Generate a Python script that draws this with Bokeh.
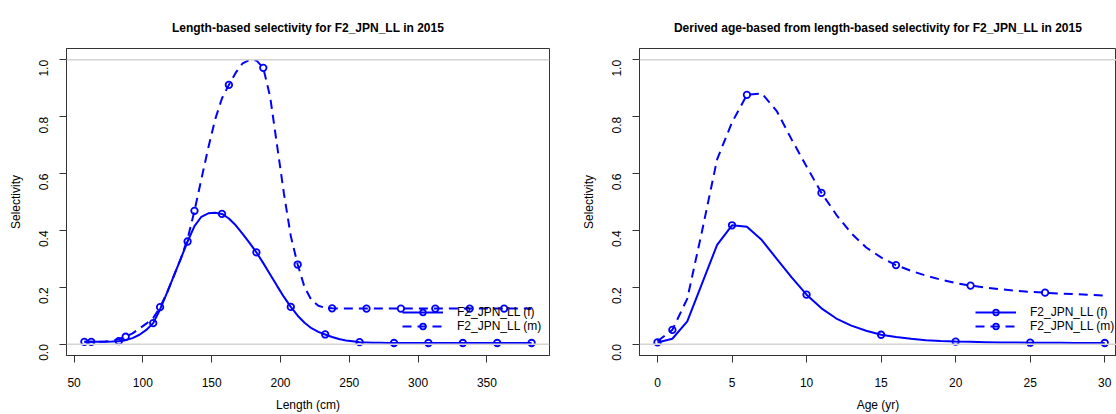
import math
from bokeh.plotting import figure
from bokeh.models import Range1d, FixedTicker, PrintfTickFormatter, Span, Legend, LegendItem
from bokeh.layouts import row
from bokeh.embed import file_html
from bokeh.resources import INLINE

# ---------------- data ----------------
length_bins = [57.5, 62.5, 67.5, 72.5, 77.5, 82.5, 87.5, 92.5, 97.5, 102.5,
               107.5, 112.5, 117.5, 122.5, 127.5, 132.5, 137.5, 142.5, 147.5, 152.5,
               157.5, 162.5, 167.5, 172.5, 177.5, 182.5, 187.5, 192.5, 197.5, 202.5,
               207.5, 212.5, 217.5, 222.5, 227.5, 232.5, 237.5, 242.5, 247.5, 252.5,
               257.5, 262.5, 267.5, 272.5, 277.5, 282.5, 287.5, 292.5, 297.5, 302.5,
               307.5, 312.5, 317.5, 322.5, 327.5, 332.5, 337.5, 342.5, 347.5, 352.5,
               357.5, 362.5, 367.5, 372.5, 377.5, 382.5]
sel_len_f = [0.008, 0.008, 0.008, 0.008, 0.009, 0.0105, 0.014, 0.021, 0.033, 0.050,
             0.074, 0.122, 0.180, 0.240, 0.300, 0.361, 0.415, 0.448, 0.460, 0.462,
             0.458, 0.442, 0.418, 0.388, 0.356, 0.323, 0.285, 0.245, 0.205, 0.166,
             0.131, 0.100, 0.075, 0.056, 0.043, 0.034, 0.025, 0.018, 0.013, 0.010,
             0.007, 0.006, 0.005, 0.005, 0.004, 0.004, 0.004, 0.004, 0.004, 0.004,
             0.004, 0.004, 0.004, 0.004, 0.004, 0.004, 0.004, 0.004, 0.004, 0.004,
             0.004, 0.004, 0.004, 0.004, 0.004, 0.004]
sel_len_m = [0.008, 0.008, 0.008, 0.009, 0.012, 0.017, 0.026, 0.038, 0.055, 0.072,
             0.092, 0.130, 0.180, 0.240, 0.300, 0.370, 0.469, 0.580, 0.690, 0.790,
             0.865, 0.912, 0.955, 0.988, 1.000, 0.998, 0.972, 0.870, 0.700, 0.530,
             0.380, 0.280, 0.200, 0.155, 0.135, 0.128, 0.126, 0.125, 0.125, 0.125,
             0.125, 0.125, 0.125, 0.125, 0.125, 0.125, 0.125, 0.125, 0.125, 0.125,
             0.125, 0.125, 0.125, 0.125, 0.125, 0.125, 0.125, 0.125, 0.125, 0.125,
             0.125, 0.125, 0.125, 0.125, 0.125, 0.125]

age_bins = [0, 1, 2, 3, 4, 5, 6, 7, 8, 9, 10, 11, 12, 13, 14, 15, 16, 17, 18, 19,
            20, 21, 22, 23, 24, 25, 26, 27, 28, 29, 30]
sel_age_f = [0.006, 0.019, 0.080, 0.215, 0.349, 0.418, 0.413, 0.366, 0.300, 0.235,
             0.174, 0.126, 0.090, 0.065, 0.047, 0.033, 0.025, 0.019, 0.014, 0.011,
             0.009, 0.008, 0.007, 0.006, 0.006, 0.005, 0.005, 0.005, 0.004, 0.004,
             0.004]
sel_age_m = [0.010, 0.050, 0.160, 0.400, 0.650, 0.780, 0.877, 0.882, 0.820, 0.720,
             0.625, 0.532, 0.455, 0.390, 0.340, 0.305, 0.278, 0.258, 0.241, 0.227,
             0.215, 0.206, 0.199, 0.193, 0.188, 0.184, 0.181, 0.178, 0.176, 0.173,
             0.171]

len_ticks = [50, 100, 150, 200, 250, 300, 350]
age_ticks = [0, 5, 10, 15, 20, 25, 30]
sel_ticks = [0.0, 0.2, 0.4, 0.6, 0.8, 1.0]
ref_lines = [0.0, 1.0]
label_f = "F2_JPN_LL (f)"
label_m = "F2_JPN_LL (m)"

FONT = "Liberation Sans"
BLUE = "#0000FF"


def make_panel(title, xlabel, xs, yf, ym, xticks, xr, width, mbl, mbr):
    p = figure(width=width, height=414, output_backend="svg", toolbar_location=None,
               x_range=Range1d(*xr), y_range=Range1d(-0.04, 1.04),
               min_border_left=mbl, min_border_right=mbr, min_border_top=48,
               min_border_bottom=58)
    p.title.text = title
    p.title.align = "center"
    p.title.vertical_align = "top"
    p.title.text_font = FONT
    p.title.text_font_size = "12px"
    p.title.text_font_style = "bold"
    p.title.text_color = "black"
    p.title.standoff = 24
    p.grid.visible = False
    p.outline_line_color = "#333333"
    p.outline_line_width = 1
    p.background_fill_color = "white"
    p.border_fill_color = "white"

    for ax in (p.xaxis[0], p.yaxis[0]):
        ax.axis_line_color = "#333333"
        ax.major_tick_line_color = "#333333"
        ax.minor_tick_line_color = None
        ax.major_tick_out = 7
        ax.major_tick_in = 0
        ax.major_label_text_font = FONT
        ax.major_label_text_font_size = "12px"
        ax.major_label_text_color = "black"
        ax.axis_label_text_font = FONT
        ax.axis_label_text_font_size = "12px"
        ax.axis_label_text_font_style = "normal"
        ax.axis_label_text_color = "black"
    p.xaxis.ticker = FixedTicker(ticks=xticks)
    p.xaxis.axis_label = xlabel
    p.xaxis.major_label_standoff = 15
    p.xaxis.axis_label_standoff = 8
    p.yaxis.ticker = FixedTicker(ticks=sel_ticks)
    p.yaxis.formatter = PrintfTickFormatter(format="%.1f")
    p.yaxis.major_label_orientation = math.pi / 2
    p.yaxis.axis_label = "Selectivity"
    p.yaxis.major_label_standoff = 16
    p.yaxis.axis_label_standoff = 9

    for v in ref_lines:
        p.add_layout(Span(location=v, dimension="width", line_color="#d4d4d4", line_width=1.5))

    lf = p.line(xs, yf, line_color=BLUE, line_width=2)
    lm = p.line(xs, ym, line_color=BLUE, line_width=2, line_dash="9 6")
    pf = p.scatter(xs[0::5], yf[0::5], marker="circle", size=6.5, fill_color=None,
                   line_color=BLUE, line_width=1.8)
    pm = p.scatter(xs[1::5], ym[1::5], marker="circle", size=6.5, fill_color=None,
                   line_color=BLUE, line_width=1.8)

    leg = Legend(items=[LegendItem(label=label_f, renderers=[lf, pf]),
                        LegendItem(label=label_m, renderers=[lm, pm])],
                 location=(336, 22), orientation="vertical",
                 border_line_color=None, background_fill_alpha=0,
                 padding=0, margin=0, spacing=0,
                 glyph_width=41, glyph_height=14, label_height=14,
                 label_standoff=14, label_text_font=FONT,
                 label_text_font_size="12px", label_text_color="black")
    p.add_layout(leg, "center")
    return p


p1 = make_panel("Length-based selectivity for F2_JPN_LL in 2015", "Length (cm)",
                length_bins, sel_len_f, sel_len_m, len_ticks, (44.5, 395.5),
                width=578, mbl=66, mbr=29)
p2 = make_panel("Derived age-based from length-based selectivity for F2_JPN_LL in 2015", "Age (yr)",
                age_bins, sel_age_f, sel_age_m, age_ticks, (-1.205, 30.79),
                width=538, mbl=60, mbr=0)

layout = row(p1, p2)
open("out.html", "w").write(file_html(layout, INLINE))
